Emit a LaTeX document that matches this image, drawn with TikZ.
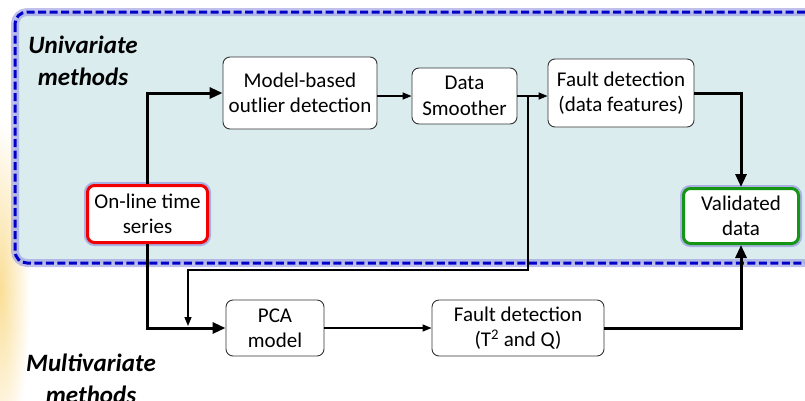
\documentclass[tikz,border=0pt]{standalone}
\usepackage{fontspec}
\setmainfont{Carlito}
\usetikzlibrary{arrows.meta,calc}
\definecolor{panelfill}{RGB}{218,236,238}
\definecolor{paneledge}{RGB}{0,0,200}
\definecolor{haze}{RGB}{150,150,225}
\definecolor{glowor}{RGB}{250,222,150}
\definecolor{redbox}{RGB}{240,0,0}
\definecolor{greenbox}{RGB}{20,150,20}

\begin{document}
\begin{tikzpicture}[x=1pt,y=-1pt,
  box/.style={draw=black!80, line width=0.9pt, fill=white, rounded corners=7pt,
    align=center, inner sep=0pt, font=\fontsize{21}{25.5}\selectfont},
  halo/.style={preaction={draw=haze, line width=7pt, opacity=0.7}},
  heavy/.style={line width=3pt, -{Triangle[length=13pt,width=11pt]}},
  light/.style={line width=1.4pt, -{Triangle[length=9pt,width=7pt]}},
  grouplabel/.style={font=\fontsize{25}{32}\selectfont\bfseries\itshape, align=center},
]
\useasboundingbox (0,0) rectangle (805,400);
\clip (0,0) rectangle (805,400);

% warm glow along the left edge
\shade[inner color=glowor, outer color=white] (0,290) ellipse [x radius=30, y radius=170];

% univariate panel
\fill[panelfill, rounded corners=12pt] (15,12) rectangle (840,263);
\draw[haze, line width=8pt, opacity=0.6, rounded corners=12pt] (15,12) rectangle (840,263);
\draw[paneledge, line width=3pt, dash pattern=on 8pt off 3.5pt, rounded corners=12pt]
  (15,12) rectangle (840,263);

% group labels
\node[grouplabel] (uni) at (83,61) {Univariate\\methods};
\node[grouplabel] (multi) at (91,379) {Multivariate\\methods};

% blocks
\node[box, minimum width=154pt, minimum height=72pt] (mb) at (300,93) {Model-based\\outlier detection};
\node[box, minimum width=105pt, minimum height=56pt] (ds) at (464.5,96) {Data\\Smoother};
\node[box, minimum width=146pt, minimum height=68pt] (fd) at (621,93) {Fault detection\\(data features)};
\node[box, halo, draw=redbox, line width=3pt, minimum width=120pt, minimum height=57pt] (ol) at (147.5,214) {On-line time\\series};
\node[box, halo, draw=greenbox, line width=3pt, minimum width=115pt, minimum height=55pt] (vd) at (741,216) {Validated\\data};
\node[box, minimum width=98pt, minimum height=56pt] (pca) at (275,328) {PCA\\model};
\node[box, minimum width=172pt, minimum height=56pt] (ft) at (518,328) {Fault detection\\(T\textsuperscript{2} and Q)};

% univariate chain
\draw[heavy] (ol.north) |- (mb.west);
\draw[light] (mb.east |- ds.west) -- (ds.west);
\draw[light] (ds.east) -- (ds.east -| fd.west);
\draw[heavy] (fd.east) -| (vd.north);

% smoothed data also feeds the PCA model
\coordinate (br) at ($(ds.east)!0.35!(ds.east -| fd.west)$);
\coordinate (jog) at (188,270);
\coordinate (feed) at (188,326);
\draw[light] (br) |- (jog) -- (feed);

% multivariate chain
\draw[heavy] (ol.south) |- (pca.west);
\draw[light] (pca.east) -- (ft.west);
\draw[heavy] (ft.east) -| (vd.south);
\end{tikzpicture}
\end{document}
